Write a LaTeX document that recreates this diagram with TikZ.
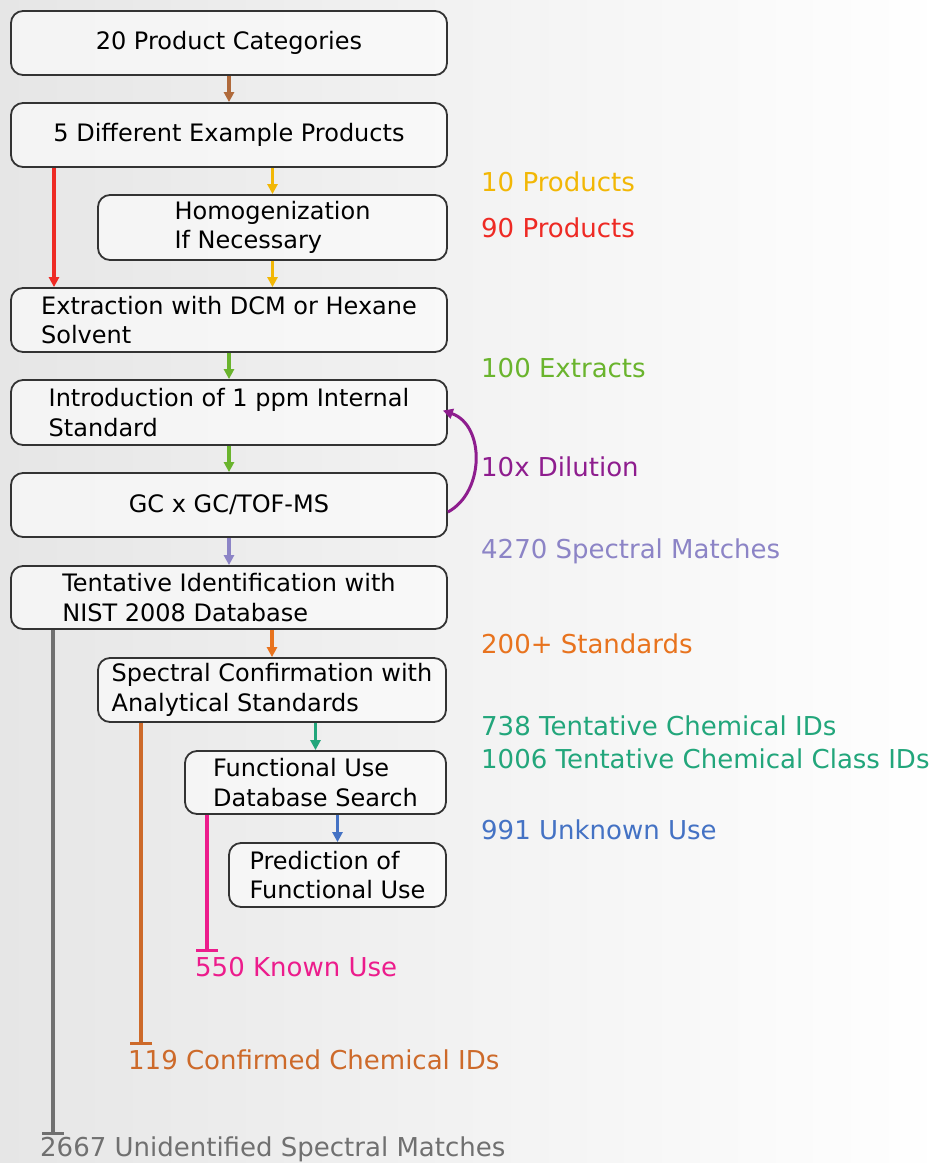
\documentclass[tikz,border=0pt]{standalone}
\usepackage{fontspec}
\setmainfont{DejaVu Sans}
\usetikzlibrary{arrows.meta,calc}
\definecolor{cbrown}{HTML}{B06A3B}
\definecolor{cyellow}{HTML}{F2B705}
\definecolor{cred}{HTML}{EE2A24}
\definecolor{cgreen}{HTML}{6AB42D}
\definecolor{clav}{HTML}{8C84C6}
\definecolor{corange}{HTML}{E8731E}
\definecolor{cteal}{HTML}{22A67B}
\definecolor{cblue}{HTML}{4472C4}
\definecolor{cpurple}{HTML}{8E1D8E}
\definecolor{cpink}{HTML}{EC1C8C}
\definecolor{cdorange}{HTML}{CD6A2A}
\definecolor{cgray}{HTML}{707070}
\definecolor{cbg}{HTML}{E6E6E6}
\definecolor{cedge}{HTML}{333333}
\tikzset{
  box/.style={draw=cedge, line width=1.8pt, rounded corners=12pt, fill=white, fill opacity=0.55, text opacity=1,
    align=left, inner sep=0pt, font=\fontsize{24}{29.5}\selectfont},
  arr/.style={line width=3.2pt, -{Triangle[length=10pt,width=10pt]}},
  stopline/.style={line width=3.2pt, -{Bar[width=22pt,line width=3.2pt]}},
  lab/.style={anchor=west, inner sep=0pt, font=\fontsize{26}{30}\selectfont},
}
\begin{document}
\begin{tikzpicture}[x=1pt,y=-1pt]
\shade[left color=cbg, right color=white] (0,0) rectangle (945,1163);
\path[use as bounding box] (0,0) rectangle (945,1163);

\node[box, minimum width=436pt, minimum height=64pt] (b1) at (229,43) {20 Product Categories};
\node[box, minimum width=436pt, minimum height=64pt] (b2) at (229,135) {5 Different Example Products};
\node[box, minimum width=349pt, minimum height=65pt] (b3) at (272.5,227.5) {Homogenization\\If Necessary};
\node[box, minimum width=436pt, minimum height=64pt] (b4) at (229,320) {Extraction with DCM or Hexane\\Solvent};
\node[box, minimum width=436pt, minimum height=65pt] (b5) at (229,412.5) {Introduction of 1 ppm Internal\\Standard};
\node[box, minimum width=436pt, minimum height=64pt] (b6) at (229,505) {GC x GC/TOF-MS};
\node[box, minimum width=436pt, minimum height=63pt] (b7) at (229,597.5) {Tentative Identification with\\NIST 2008 Database};
\node[box, minimum width=348pt, minimum height=64pt] (b8) at (272,690) {Spectral Confirmation with\\Analytical Standards};
\node[box, minimum width=261pt, minimum height=63pt] (b9) at (315.5,782.5) {Functional Use\\Database Search};
\node[box, minimum width=217pt, minimum height=64pt] (b10) at (337.5,875) {Prediction of\\Functional Use};

% arrows
\draw[arr, cbrown] (b1.south) -- (b2.north);
\draw[arr, cyellow] (b2.south -| b3.north) -- (b3.north);
\draw[arr, cyellow] (b3.south) -- (b4.north -| b3.south);
\draw[arr, cred] ([xshift=-175pt]b2.south) -- ([xshift=-175pt]b4.north);
\draw[arr, cgreen] (b4.south) -- (b5.north);
\draw[arr, cgreen] (b5.south) -- (b6.north);
\draw[arr, clav] (b6.south) -- (b7.north);
\draw[arr, corange] (b7.south -| b8.north) -- (b8.north);
\draw[arr, cteal] (b8.south -| b9.north) -- (b9.north);
\draw[arr, cblue] (b9.south -| b10.north) -- (b10.north);
\draw[arr, cpurple, line width=3pt] ([yshift=-7pt]b6.east) .. controls (485,492) and (485,425) .. ([xshift=-5pt,yshift=2pt]b5.east);

% labels
\node[lab, text=cyellow] (l10) at (481,182) {10 Products};
\node[lab, text=cred] (l90) at (481,228) {90 Products};
\node[lab, text=cgreen] (l100) at (481,368) {100 Extracts};
\node[lab, text=cpurple] (ldil) at (481,467) {10x Dilution};
\node[lab, text=clav] (l4270) at (481,551) {4270 Spectral Matches};
\node[lab, text=corange] (l200) at (481,644) {200+ Standards};
\node[lab, text=cteal] (l738) at (481,726) {738 Tentative Chemical IDs};
\node[lab, text=cteal] (l1006) at (481,759) {1006 Tentative Chemical Class IDs};
\node[lab, text=cblue] (l991) at (481,830) {991 Unknown Use};
\node[lab, text=cpink] (l550) at (195,967) {550 Known Use};
\node[lab, text=cdorange] (l119) at (128,1060) {119 Confirmed Chemical IDs};
\node[lab, text=cgray] (l2667) at (40,1149) {2667 Unidentified Spectral Matches};

% terminating lines
\coordinate (pinkend) at (207,952);
\coordinate (oraend) at (141,1045);
\coordinate (grayend) at (53,1135);
\draw[stopline, cpink] (b9.south -| pinkend) -- (pinkend);
\draw[stopline, cdorange] (b8.south -| oraend) -- (oraend);
\draw[stopline, cgray, line width=3.8pt] (b7.south -| grayend) -- (grayend);
\end{tikzpicture}
\end{document}
